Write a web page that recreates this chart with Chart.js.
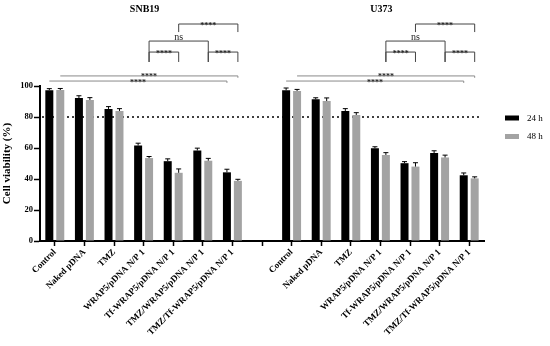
<!DOCTYPE html>
<html>
<head>
<meta charset="utf-8">
<script src="https://cdn.jsdelivr.net/npm/chart.js@4.4.0/dist/chart.umd.min.js"></script>
<style>
  html, body { margin: 0; padding: 0; background: #fff; }
  #wrap { width: 550px; height: 346px; }
</style>
</head>
<body>
<div id="wrap"><canvas id="myChart" width="550" height="346"></canvas></div>
<script>
// Datos de la figura
const cellLines = ['SNB19', 'U373'];
const treatments = ['Control', 'Naked pDNA', 'TMZ', 'WRAP5/pDNA N/P 1', 'Tf-WRAP5/pDNA N/P 1',
  'TMZ/WRAP5/pDNA N/P 1', 'TMZ/Tf-WRAP5/pDNA N/P 1'];
const seriesNames = ['24 h', '48 h'];

const snb19_24h = [97.3, 92.2, 85.2, 61.6, 51.5, 58.4, 44.3];
const snb19_48h = [97.4, 91.0, 83.9, 53.5, 44.0, 51.8, 38.8];
const u373_24h = [97.2, 91.4, 83.9, 59.8, 50.2, 56.7, 42.4];
const u373_48h = [96.8, 90.3, 81.3, 55.5, 48.0, 53.9, 40.4];

const snb19_24h_err = [1.0, 1.5, 1.5, 1.5, 1.5, 1.5, 2.0];
const snb19_48h_err = [1.0, 1.5, 1.5, 1.0, 2.5, 1.5, 1.0];
const u373_24h_err = [1.5, 1.0, 1.5, 1.0, 1.0, 1.5, 1.5];
const u373_48h_err = [1.0, 2.0, 1.5, 1.5, 2.5, 1.5, 1.0];

const yTicks = [0, 20, 40, 60, 80, 100];
const thresholdValue = 80;

// comparaciones: [desde, serie, hasta, serie, nivel, patas hasta, texto, tipo]
const comparisons = [
  [4, 1, 6, 1, 140, 134.8, '****', 'bracket'],
  [3, 1, 5, 1, 129, 115.5, 'ns', 'bracket'],
  [3, 1, 4, 1, 121.9, 115.5, '****', 'bracket'],
  [5, 1, 6, 1, 121.9, 115.5, '****', 'bracket'],
  [0, 1, 6, 1, 106.5, 105.3, '****', 'line'],
  [0, 0, 6, 0, 103.2, 102.0, '****', 'line']
];

// etiquetas con un hueco entre las dos líneas celulares
const labels = [...treatments, '', ...treatments];
const data24 = [...snb19_24h, null, ...u373_24h];
const data48 = [...snb19_48h, null, ...u373_48h];
const err24 = [...snb19_24h_err, null, ...u373_24h_err];
const err48 = [...snb19_48h_err, null, ...u373_48h_err];
const groupStart = [0, treatments.length + 1];

const serif = "'Liberation Serif', 'DejaVu Serif', serif";

const extras = {
  id: 'extras',
  beforeDatasetsDraw(chart) {
    const { ctx, chartArea, scales: { y } } = chart;
    const py = y.getPixelForValue(thresholdValue);
    ctx.save();
    ctx.strokeStyle = '#000';
    ctx.lineWidth = 1.6;
    ctx.setLineDash([2, 3]);
    ctx.beginPath();
    ctx.moveTo(chartArea.left + 2, py);
    ctx.lineTo(chartArea.right - 2, py);
    ctx.stroke();
    ctx.restore();
  },
  afterDatasetsDraw(chart) {
    const { ctx, scales: { x, y } } = chart;
    ctx.save();
    // barras de error (solo hacia arriba)
    [err24, err48].forEach((errs, di) => {
      const meta = chart.getDatasetMeta(di);
      const vals = chart.data.datasets[di].data;
      meta.data.forEach((bar, i) => {
        if (vals[i] == null) return;
        const top = y.getPixelForValue(vals[i] + errs[i]);
        ctx.strokeStyle = '#000';
        ctx.lineWidth = 1;
        ctx.beginPath();
        ctx.moveTo(bar.x, bar.y);
        ctx.lineTo(bar.x, top);
        ctx.moveTo(bar.x - 2.5, top);
        ctx.lineTo(bar.x + 2.5, top);
        ctx.stroke();
      });
    });

    // posición de una barra concreta
    const barX = (idx, s) => chart.getDatasetMeta(s).data[idx].x;

    // títulos
    ctx.fillStyle = '#000';
    ctx.font = 'bold 10px ' + serif;
    ctx.textAlign = 'center';
    ctx.textBaseline = 'middle';
    cellLines.forEach((name, g) => {
      const a = x.getPixelForValue(groupStart[g]);
      const b = x.getPixelForValue(groupStart[g] + treatments.length - 1);
      ctx.fillText(name, (a + b) / 2 + 1, 9);
    });

    // comparaciones
    groupStart.forEach(g0 => {
      comparisons.forEach(c => {
        const [i1, s1, i2, s2, lvl, leg, txt, kind] = c;
        const x1 = barX(g0 + i1, s1);
        const x2 = barX(g0 + i2, s2);
        const ly = y.getPixelForValue(lvl);
        const lg = y.getPixelForValue(leg);
        ctx.strokeStyle = kind === 'line' ? '#8a8a8a' : '#444';
        ctx.lineWidth = 1;
        ctx.beginPath();
        if (kind === 'bracket') {
          ctx.moveTo(x1, lg);
          ctx.lineTo(x1, ly);
          ctx.lineTo(x2, ly);
          ctx.lineTo(x2, lg);
        } else {
          ctx.moveTo(x1, ly);
          ctx.lineTo(x2, ly);
          ctx.lineTo(x2, lg);
        }
        ctx.stroke();
        ctx.fillStyle = '#222';
        ctx.textAlign = 'center';
        ctx.textBaseline = 'alphabetic';
        if (txt === 'ns') {
          ctx.font = '10px ' + serif;
          ctx.fillText(txt, (x1 + x2) / 2, ly - 1.5);
        } else {
          ctx.font = 'bold 8px ' + serif;
          ctx.fillText(txt, (x1 + x2) / 2, ly + 3.5);
        }
      });
    });

    // leyenda
    const colors = ['#000000', '#a3a3a3'];
    seriesNames.forEach((name, i) => {
      const ty = 118 + i * 18.5;
      ctx.fillStyle = colors[i];
      ctx.fillRect(505, ty - 2.5, 14, 5);
      ctx.fillStyle = '#000';
      ctx.font = '9px ' + serif;
      ctx.textAlign = 'left';
      ctx.textBaseline = 'middle';
      ctx.fillText(name, 527, ty + 0.5);
    });
    ctx.restore();
  }
};

const ctx = document.getElementById('myChart').getContext('2d');
const myChart = new Chart(ctx, {
  type: 'bar',
  data: {
    labels: labels,
    datasets: [{
      label: seriesNames[0],
      data: data24,
      backgroundColor: '#000000',
      categoryPercentage: 0.74,
      barPercentage: 0.73
    }, {
      label: seriesNames[1],
      data: data48,
      backgroundColor: '#a3a3a3',
      categoryPercentage: 0.74,
      barPercentage: 0.73
    }]
  },
  options: {
    responsive: false,
    animation: false,
    layout: { padding: { top: 86, right: 66, left: 0, bottom: 0 } },
    plugins: {
      legend: { display: false },
      tooltip: { enabled: false }
    },
    scales: {
      x: {
        afterFit: s => { s.height = 105; },
        border: { display: true, color: '#000', width: 2 },
        grid: { display: true, drawOnChartArea: false, offset: false, tickLength: 5, tickColor: '#000', tickWidth: 1.5 },
        ticks: {
          autoSkip: false,
          maxRotation: 45,
          minRotation: 45,
          padding: 1,
          color: '#000',
          font: { family: serif, size: 9, weight: 'bold' }
        }
      },
      y: {
        min: 0,
        max: 100,
        afterFit: s => { s.width = 40; },
        afterBuildTicks: s => { s.ticks = yTicks.map(v => ({ value: v })); },
        border: { display: true, color: '#000', width: 2 },
        grid: { display: true, drawOnChartArea: false, tickLength: 6, tickColor: '#000', tickWidth: 1.5 },
        ticks: {
          padding: 1,
          color: '#000',
          font: { family: serif, size: 8.5, weight: 'bold' }
        },
        title: {
          display: true,
          text: 'Cell viability (%)',
          color: '#000',
          padding: { top: 1, bottom: 0 },
          font: { family: serif, size: 11, weight: 'bold' }
        }
      }
    }
  },
  plugins: [extras]
});
</script>
</body>
</html>
